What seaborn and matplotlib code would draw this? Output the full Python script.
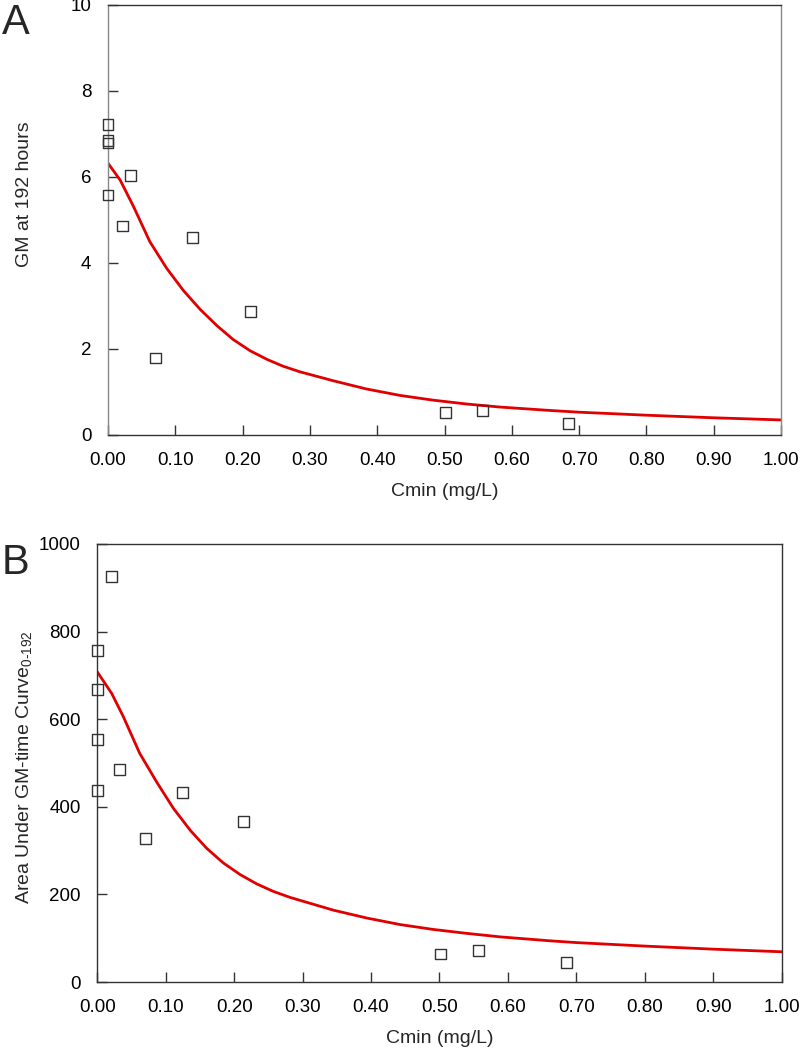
import numpy as np
import pandas as pd
import matplotlib
matplotlib.use("Agg")
import matplotlib.pyplot as plt
import seaborn as sns

sns.set_theme(style="ticks")
plt.rcParams["font.family"] = ["Liberation Sans", "DejaVu Sans"]
plt.rcParams["mathtext.fontset"] = "custom"
plt.rcParams["mathtext.rm"] = "Liberation Sans"
plt.rcParams["mathtext.it"] = "Liberation Sans"

# Panel A: GM at 192 hours vs Cmin (observed)
cmin_a = [0.0, 0.0, 0.0, 0.0, 0.033, 0.021, 0.125, 0.071, 0.212, 0.501, 0.557, 0.684]
gm_a = [7.21, 6.84, 6.79, 5.58, 6.03, 4.86, 4.59, 1.79, 2.88, 0.53, 0.58, 0.26]

# Panel A: fitted curve
fit_x_a = [0.0, 0.018, 0.038, 0.062, 0.087, 0.112, 0.137, 0.162, 0.186, 0.211, 0.236,
           0.260, 0.285, 0.335, 0.384, 0.434, 0.483, 0.533, 0.582, 0.657, 0.70, 0.80, 0.90, 1.00]
fit_y_a = [6.32, 5.93, 5.31, 4.50, 3.88, 3.36, 2.92, 2.54, 2.22, 1.96, 1.76,
           1.60, 1.47, 1.26, 1.07, 0.92, 0.81, 0.72, 0.65, 0.57, 0.53, 0.46, 0.40, 0.35]

# Panel B: AUC 0-192 vs Cmin (observed)
cmin_b = [0.021, 0.0, 0.0, 0.0, 0.0, 0.032, 0.125, 0.213, 0.071, 0.502, 0.557, 0.685]
auc_b = [925, 756, 668, 553, 437, 486, 433, 366, 328, 64, 71, 45]

# Panel B: fitted curve
fit_x_b = [0.0, 0.021, 0.038, 0.062, 0.087, 0.111, 0.136, 0.160, 0.184, 0.209, 0.233,
           0.257, 0.282, 0.345, 0.394, 0.443, 0.491, 0.540, 0.589, 0.662, 0.70, 0.80, 0.90, 1.00]
fit_y_b = [708, 659, 606, 522, 456, 397, 346, 305, 272, 245, 224,
           207, 193, 164, 146, 131, 120, 111, 103, 94, 90, 82, 75, 69]

x_ticks = np.arange(0, 1.01, 0.1)

fig = plt.figure(figsize=(8, 10.54), dpi=100)
ax_a = fig.add_axes([0.135, 0.5873, 0.8413, 0.408])
ax_b = fig.add_axes([0.1216, 0.0683, 0.8555, 0.4156])


def draw_panel(ax, cx, cy, fx, fy, ymax, ystep, ylabel):
    sns.lineplot(x=fx, y=fy, ax=ax, color="#e00000", linewidth=2.0, zorder=2)
    sns.scatterplot(x=cx, y=cy, ax=ax, marker="s", s=62, facecolor="none",
                    edgecolor="#333333", linewidth=1.0, clip_on=False, zorder=3)
    ax.set_xlim(0, 1.0)
    ax.set_ylim(0, ymax)
    ax.set_xticks(x_ticks)
    ax.set_xticklabels([f"{t:.2f}" for t in x_ticks])
    ax.set_yticks(np.arange(0, ymax + 1, ystep))
    ax.tick_params(direction="in", length=7.5, width=1.0, labelsize=13.5,
                   pad=12, colors="#333333", labelcolor="black")
    ax.set_xlabel("Cmin (mg/L)", fontsize=14, labelpad=10)
    ax.set_ylabel(ylabel, fontsize=14)
    for sp in ax.spines.values():
        sp.set_visible(True)
        sp.set_color("#333333")
        sp.set_linewidth(1.0)


draw_panel(ax_a, cmin_a, gm_a, fit_x_a, fit_y_a, 10, 2, "GM at 192 hours")
ax_a.spines["left"].set_color("#888888")
ax_a.spines["right"].set_color("#888888")
ax_a.yaxis.set_label_coords(-0.111, 0.56)

draw_panel(ax_b, cmin_b, auc_b, fit_x_b, fit_y_b, 1000, 200,
           r"Area Under GM-time Curve$_{\mathrm{0\text{-}192}}$")
ax_b.yaxis.set_label_coords(-0.093, 0.49)

fig.text(0.002, 0.997, "A", fontsize=30, va="top", ha="left")
fig.text(0.002, 0.485, "B", fontsize=30, va="top", ha="left")

fig.savefig("out.png", dpi=100)
